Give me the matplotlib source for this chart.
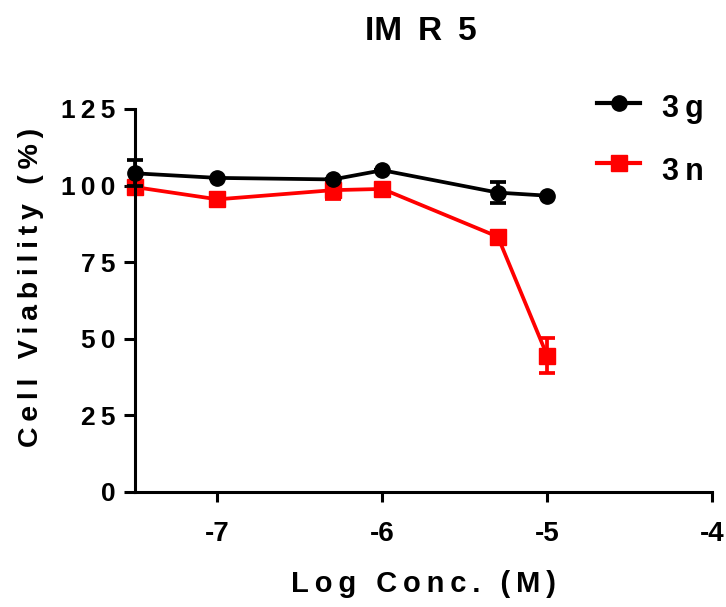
import matplotlib
matplotlib.use("Agg")
import matplotlib.pyplot as plt
from matplotlib.lines import Line2D

plt.rcParams['font.family'] = ['Liberation Sans', 'DejaVu Sans']
plt.rcParams['font.weight'] = 'bold'

# data
log_conc = [-7.5, -7.0, -6.3, -6.0, -5.3, -5.0]
g3_mean = [104.0, 102.5, 102.0, 105.0, 97.7, 96.7]
g3_err = [4.3, 0.0, 0.0, 0.0, 3.3, 0.0]
n3_mean = [99.5, 95.5, 98.5, 98.9, 83.3, 44.4]
n3_err = [1.5, 0.0, 3.0, 0.0, 0.0, 5.7]

x_ticks = [-7, -6, -5, -4]
y_ticks = [0, 25, 50, 75, 100, 125]

TS = '\u2009'  # thin space for letter spacing

def spaced(s, sep=TS):
    return sep.join(list(s))

fig = plt.figure(figsize=(7.26, 6.07), dpi=100)
ax = fig.add_axes([0.186, 0.1895, 0.795, 0.631])

ax.errorbar(log_conc, g3_mean, yerr=g3_err, color='black', marker='o',
            markersize=11, linewidth=2.7, elinewidth=2.7, capsize=5.5,
            capthick=2.7, zorder=3, clip_on=False)
ax.errorbar(log_conc, n3_mean, yerr=n3_err, color='#ff0000', marker='s',
            markersize=11.5, linewidth=2.7, elinewidth=2.7, capsize=6,
            capthick=2.7, zorder=2, clip_on=False)

ax.set_xlim(-7.5, -4)
ax.set_ylim(0, 125)
ax.set_xticks(x_ticks)
ax.set_xticklabels([str(v) for v in x_ticks])
ax.set_yticks(y_ticks)
ax.set_yticklabels([spaced(str(v)) for v in y_ticks])

for side in ['top', 'right']:
    ax.spines[side].set_visible(False)
for side in ['left', 'bottom']:
    ax.spines[side].set_linewidth(2.2)
ax.tick_params(axis='x', width=2.2, length=7, labelsize=20, pad=14)
ax.tick_params(axis='y', width=2.2, length=8, labelsize=19, pad=6)
for lab in ax.get_xticklabels() + ax.get_yticklabels():
    lab.set_fontweight('bold')

ax.set_xlabel(spaced('Log Conc. (M)'), fontsize=21, fontweight='bold')
ax.xaxis.set_label_coords(0.5, -0.205)
ax.set_ylabel(spaced('Cell Viability (%)'), fontsize=20.5, fontweight='bold')
ax.yaxis.set_label_coords(-0.158, 0.533)

fig.text(0.580, 0.934, 'IM' + ' ' + TS + 'R' + ' ' + TS + '5',
         fontsize=24, fontweight='bold', ha='center', va='baseline')

# legend drawn by hand, handles without error bars
leg_names = [spaced('3g'), spaced('3n')]
leg_colors = ['black', '#ff0000']
leg_markers = ['o', 's']
leg_y = [0.830, 0.731]
leg_text_y = [0.807, 0.7035]
for name, c, m, yl, yt in zip(leg_names, leg_colors, leg_markers, leg_y, leg_text_y):
    fig.add_artist(Line2D([0.822, 0.8815], [yl, yl], color=c, linewidth=3,
                          transform=fig.transFigure))
    fig.add_artist(Line2D([0.852], [yl], color=c, marker=m,
                          markersize=11 if m == 'o' else 12, linestyle='none',
                          transform=fig.transFigure))
    fig.text(0.912, yt, name, fontsize=22, fontweight='bold', ha='left', va='baseline')

fig.savefig('out.png', dpi=100)
